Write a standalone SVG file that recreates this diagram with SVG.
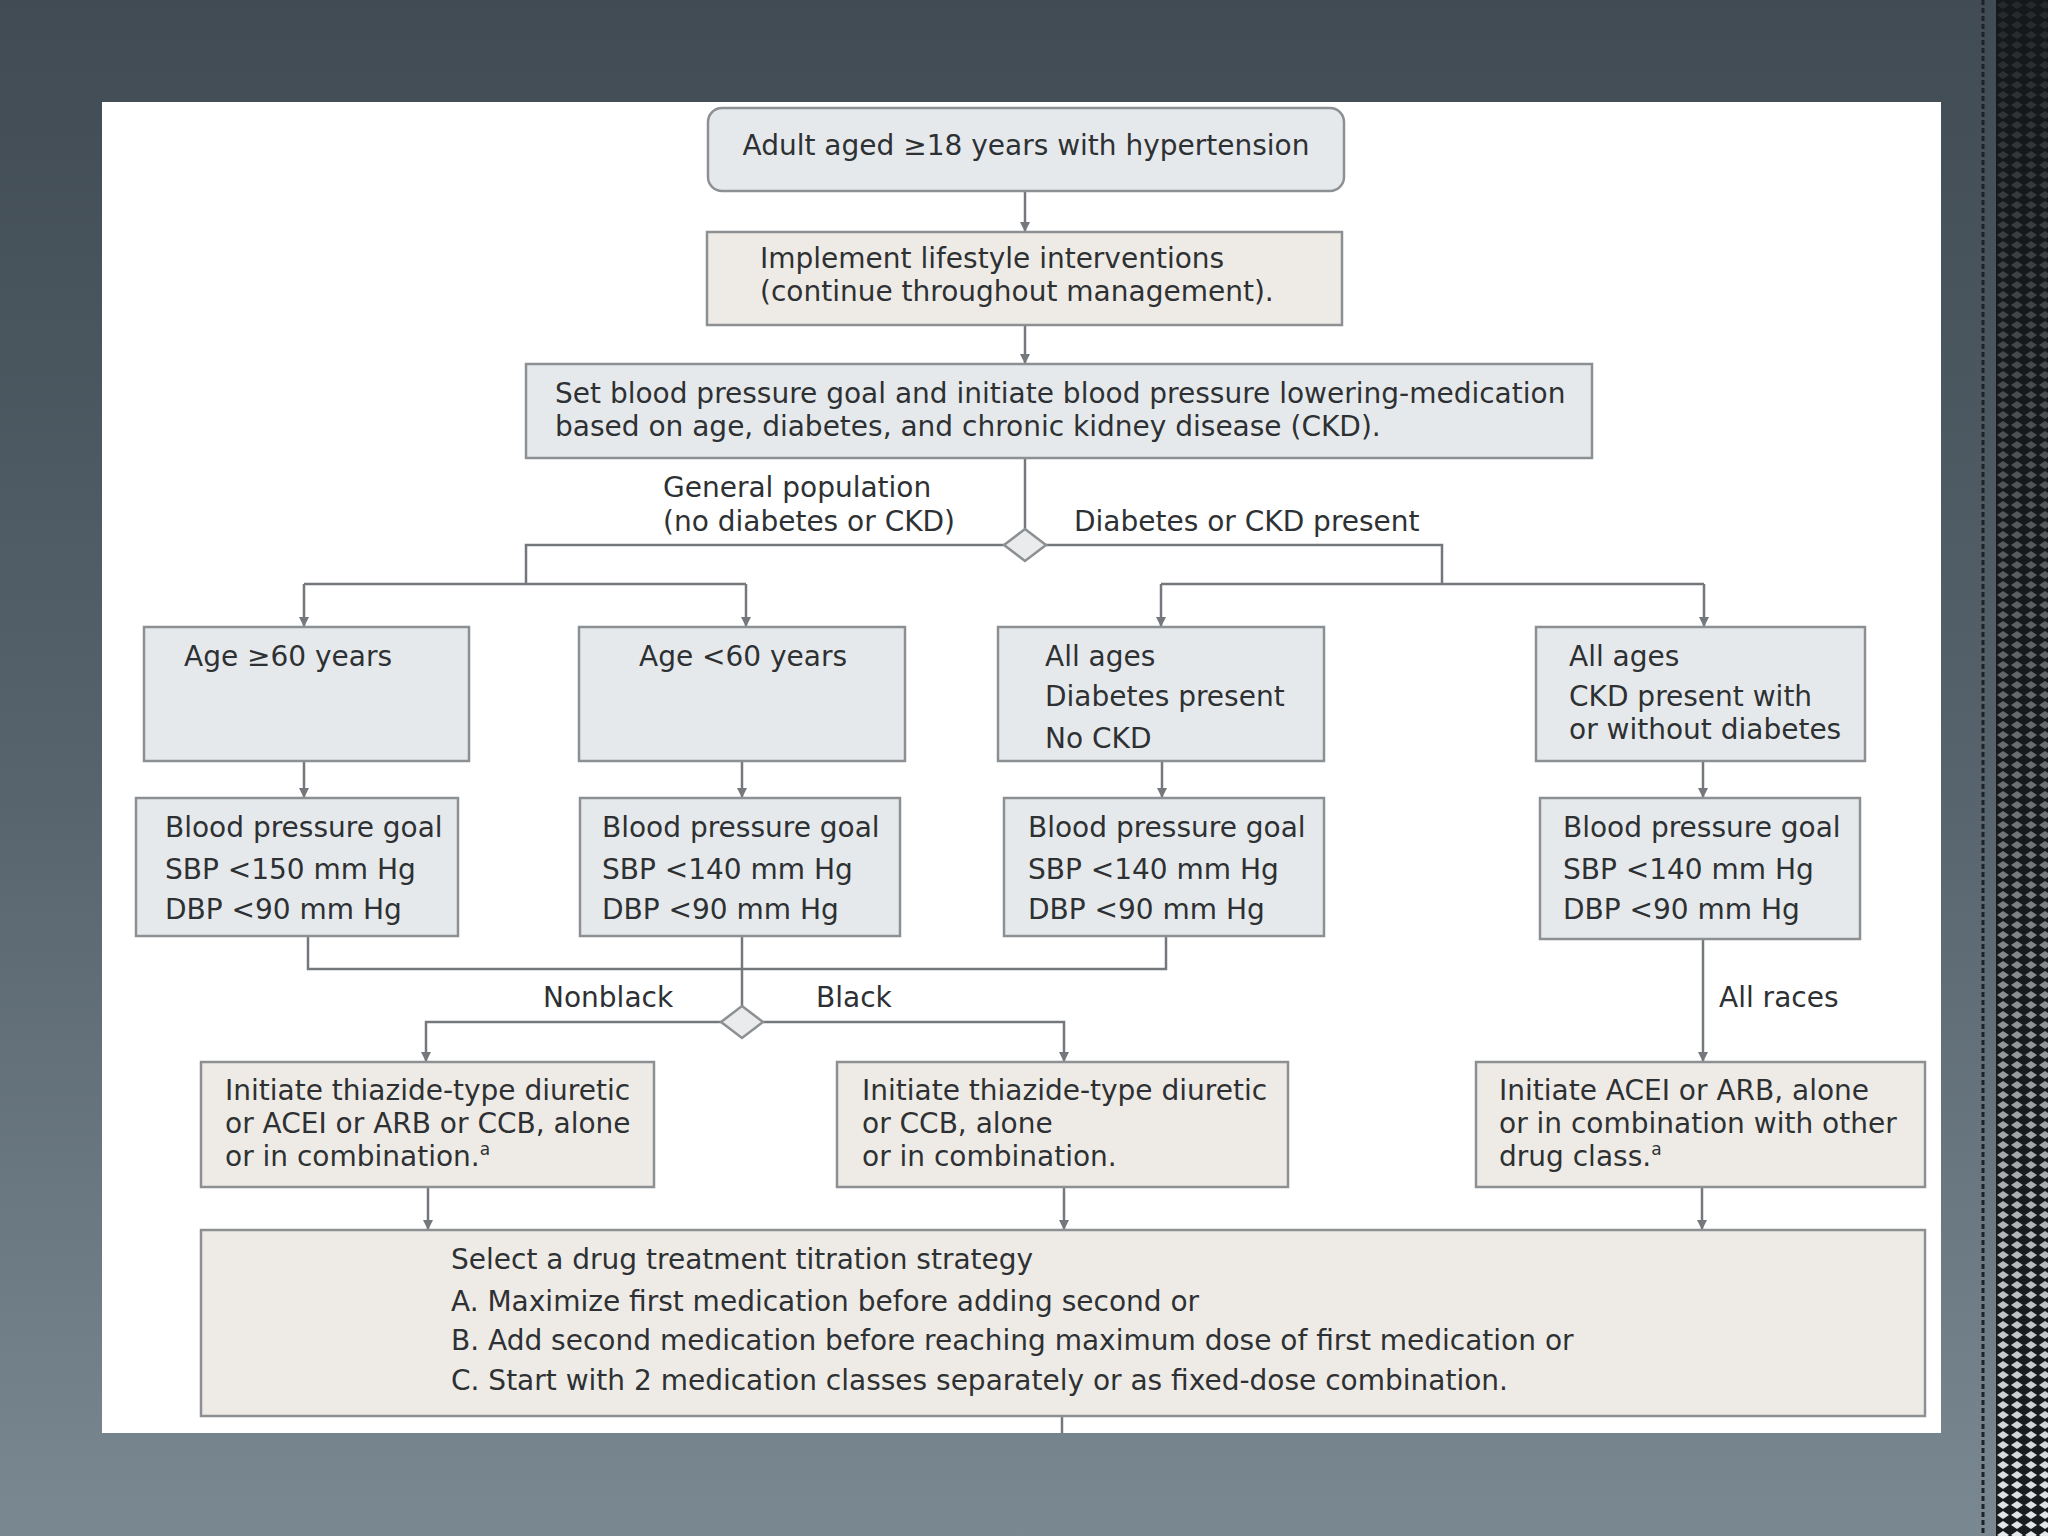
<svg xmlns="http://www.w3.org/2000/svg" width="2048" height="1536" viewBox="0 0 2048 1536">
<defs>
<linearGradient id="bg" x1="0" y1="0" x2="0" y2="1">
<stop offset="0" stop-color="#404b53"/>
<stop offset="0.5" stop-color="#56636c"/>
<stop offset="1" stop-color="#7a8892"/>
</linearGradient>
<linearGradient id="shade" x1="0" y1="0" x2="0" y2="1">
<stop offset="0" stop-color="#15181b" stop-opacity="0.92"/>
<stop offset="0.55" stop-color="#15181b" stop-opacity="0.55"/>
<stop offset="1" stop-color="#15181b" stop-opacity="0"/>
</linearGradient>
<pattern id="mesh" x="1996" y="0" width="14" height="10" patternUnits="userSpaceOnUse">
<rect width="14" height="10" fill="#1a1d20"/>
<polygon points="7,1 13,5 7,9 1,5" fill="#e4e8ea"/>
</pattern>
<marker id="arr" viewBox="0 0 10 10" refX="9" refY="5" markerWidth="10" markerHeight="10" markerUnits="userSpaceOnUse" orient="auto">
<path d="M0,0 L10,5 L0,10 z" fill="#74787c"/>
</marker>
<style>
.bb{fill:#e6e9ec;stroke:#8c9093;stroke-width:2.5}
.be{fill:#eeebe6;stroke:#8c9093;stroke-width:2.5}
.t{font-family:"DejaVu Sans","Open Sans",sans-serif;font-size:28px;fill:#2e3133}
.c{fill:none;stroke:#74787c;stroke-width:2.5}
.a{fill:none;stroke:#74787c;stroke-width:2.5;marker-end:url(#arr)}
.dm{fill:#e9ebec;stroke:#8c9093;stroke-width:2.5}
</style>
</defs>
<rect x="0" y="0" width="2048" height="1536" fill="url(#bg)"/>
<rect x="1996" y="0" width="52" height="1536" fill="url(#mesh)"/>
<rect x="1996" y="0" width="52" height="1536" fill="url(#shade)"/>
<line x1="1983" y1="0" x2="1983" y2="1536" stroke="#1e2226" stroke-width="3" stroke-dasharray="5,3"/>
<rect x="102" y="102" width="1839" height="1331" fill="#ffffff"/>

<g id="connectors">
<line class="a" x1="1025" y1="191" x2="1025" y2="231"/>
<line class="a" x1="1025" y1="325" x2="1025" y2="363"/>
<line class="c" x1="1025" y1="458" x2="1025" y2="529"/>
<polyline class="c" points="1004,545 526,545 526,584"/>
<polyline class="c" points="1046,545 1442,545 1442,584"/>
<line class="c" x1="304" y1="584" x2="746" y2="584"/>
<line class="c" x1="1161" y1="584" x2="1704" y2="584"/>
<line class="a" x1="304" y1="584" x2="304" y2="626"/>
<line class="a" x1="746" y1="584" x2="746" y2="626"/>
<line class="a" x1="1161" y1="584" x2="1161" y2="626"/>
<line class="a" x1="1704" y1="584" x2="1704" y2="626"/>
<line class="a" x1="304" y1="761" x2="304" y2="797"/>
<line class="a" x1="742" y1="761" x2="742" y2="797"/>
<line class="a" x1="1162" y1="761" x2="1162" y2="797"/>
<line class="a" x1="1703" y1="761" x2="1703" y2="797"/>
<polyline class="c" points="308,936 308,969 1166,969 1166,936"/>
<line class="c" x1="742" y1="936" x2="742" y2="1006"/>
<polyline class="a" points="721,1022 426,1022 426,1061"/>
<polyline class="a" points="763,1022 1064,1022 1064,1061"/>
<line class="a" x1="1703" y1="939" x2="1703" y2="1061"/>
<line class="a" x1="428" y1="1187" x2="428" y2="1229"/>
<line class="a" x1="1064" y1="1187" x2="1064" y2="1229"/>
<line class="a" x1="1702" y1="1187" x2="1702" y2="1229"/>
<line class="c" x1="1062" y1="1416" x2="1062" y2="1433"/>
<text class="t" x="663" y="497">General population</text>
<text class="t" x="663" y="531">(no diabetes or CKD)</text>
<text class="t" x="1074" y="531">Diabetes or CKD present</text>
<text class="t" x="543" y="1007">Nonblack</text>
<text class="t" x="816" y="1007">Black</text>
<text class="t" x="1719" y="1007">All races</text>
</g>

<g id="decision1"><polygon class="dm" points="1025,529 1046,545 1025,561 1004,545"/></g>
<g id="decision2"><polygon class="dm" points="742,1006 763,1022 742,1038 721,1022"/></g>

<g id="n-adult">
<rect class="bb" x="708" y="108" width="636" height="83" rx="14"/>
<text class="t" x="1026" y="155" text-anchor="middle">Adult aged ≥18 years with hypertension</text>
</g>
<g id="n-lifestyle">
<rect class="be" x="707" y="232" width="635" height="93"/>
<text class="t" x="760" y="268">Implement lifestyle interventions</text>
<text class="t" x="760" y="301">(continue throughout management).</text>
</g>
<g id="n-setgoal">
<rect class="bb" x="526" y="364" width="1066" height="94"/>
<text class="t" x="555" y="403">Set blood pressure goal and initiate blood pressure lowering-medication</text>
<text class="t" x="555" y="436">based on age, diabetes, and chronic kidney disease (CKD).</text>
</g>

<g id="n-age60plus">
<rect class="bb" x="144" y="627" width="325" height="134"/>
<text class="t" x="184" y="666">Age ≥60 years</text>
</g>
<g id="n-age60minus">
<rect class="bb" x="579" y="627" width="326" height="134"/>
<text class="t" x="639" y="666">Age &lt;60 years</text>
</g>
<g id="n-diabetes">
<rect class="bb" x="998" y="627" width="326" height="134"/>
<text class="t" x="1045" y="666">All ages</text>
<text class="t" x="1045" y="706">Diabetes present</text>
<text class="t" x="1045" y="748">No CKD</text>
</g>
<g id="n-ckd">
<rect class="bb" x="1536" y="627" width="329" height="134"/>
<text class="t" x="1569" y="666">All ages</text>
<text class="t" x="1569" y="706">CKD present with</text>
<text class="t" x="1569" y="739">or without diabetes</text>
</g>

<g id="n-goal1">
<rect class="bb" x="136" y="798" width="322" height="138"/>
<text class="t" x="165" y="837">Blood pressure goal</text>
<text class="t" x="165" y="879">SBP &lt;150 mm Hg</text>
<text class="t" x="165" y="919">DBP &lt;90 mm Hg</text>
</g>
<g id="n-goal2">
<rect class="bb" x="580" y="798" width="320" height="138"/>
<text class="t" x="602" y="837">Blood pressure goal</text>
<text class="t" x="602" y="879">SBP &lt;140 mm Hg</text>
<text class="t" x="602" y="919">DBP &lt;90 mm Hg</text>
</g>
<g id="n-goal3">
<rect class="bb" x="1004" y="798" width="320" height="138"/>
<text class="t" x="1028" y="837">Blood pressure goal</text>
<text class="t" x="1028" y="879">SBP &lt;140 mm Hg</text>
<text class="t" x="1028" y="919">DBP &lt;90 mm Hg</text>
</g>
<g id="n-goal4">
<rect class="bb" x="1540" y="798" width="320" height="141"/>
<text class="t" x="1563" y="837">Blood pressure goal</text>
<text class="t" x="1563" y="879">SBP &lt;140 mm Hg</text>
<text class="t" x="1563" y="919">DBP &lt;90 mm Hg</text>
</g>

<g id="n-nonblack">
<rect class="be" x="201" y="1062" width="453" height="125"/>
<text class="t" x="225" y="1100">Initiate thiazide-type diuretic</text>
<text class="t" x="225" y="1133">or ACEI or ARB or CCB, alone</text>
<text class="t" x="225" y="1166">or in combination.<tspan font-size="17" dy="-11">a</tspan></text>
</g>
<g id="n-black">
<rect class="be" x="837" y="1062" width="451" height="125"/>
<text class="t" x="862" y="1100">Initiate thiazide-type diuretic</text>
<text class="t" x="862" y="1133">or CCB, alone</text>
<text class="t" x="862" y="1166">or in combination.</text>
</g>
<g id="n-allraces">
<rect class="be" x="1476" y="1062" width="449" height="125"/>
<text class="t" x="1499" y="1100">Initiate ACEI or ARB, alone</text>
<text class="t" x="1499" y="1133">or in combination with other</text>
<text class="t" x="1499" y="1166">drug class.<tspan font-size="17" dy="-11">a</tspan></text>
</g>

<g id="n-titration">
<rect class="be" x="201" y="1230" width="1724" height="186"/>
<text class="t" x="451" y="1269">Select a drug treatment titration strategy</text>
<text class="t" x="451" y="1311">A. Maximize first medication before adding second or</text>
<text class="t" x="451" y="1350">B. Add second medication before reaching maximum dose of first medication or</text>
<text class="t" x="451" y="1390">C. Start with 2 medication classes separately or as fixed-dose combination.</text>
</g>
</svg>
